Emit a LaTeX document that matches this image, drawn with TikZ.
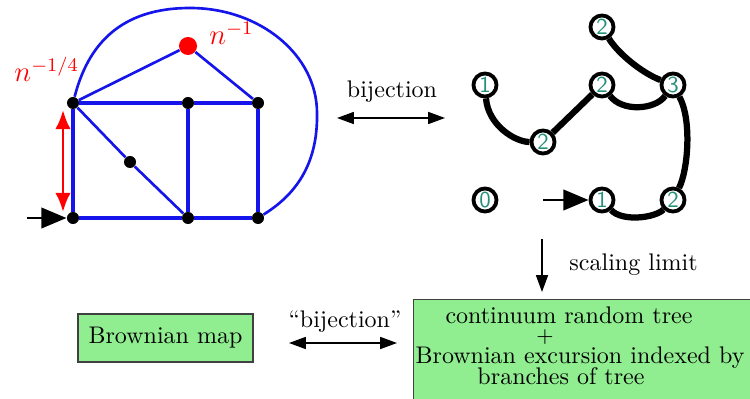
\documentclass[tikz,border=0pt]{standalone}
\usetikzlibrary{arrows.meta}

\definecolor{mapblue}{RGB}{20,20,235}
\definecolor{boxgreen}{RGB}{144,238,144}
\definecolor{labelteal}{RGB}{35,145,120}

\tikzset{
	vtx/.style={circle, fill=black, inner sep=0pt, minimum size=5pt},
	rootvtx/.style={circle, fill=red, inner sep=0pt, minimum size=7.5pt},
	mapedge/.style={mapblue, line width=1.7pt},
	mapthin/.style={mapblue, line width=1.1pt},
	tnode/.style={circle, draw, line width=1.6pt, fill=white, inner sep=0pt, minimum size=9.6pt,
		text=labelteal, font=\sffamily\fontsize{9.5}{10}\selectfont},
	tedge/.style={line width=2.6pt},
	rootarrow/.style={line width=1.2pt, -{Triangle[length=10.5pt, width=8.5pt]}},
	greenbox/.style={draw=black!75, line width=0.5pt, fill=boxgreen, inner sep=0pt},
	boxtext/.style={inner sep=0pt},
	thinarrow/.style={line width=0.6pt, {Triangle[length=7pt, width=5pt]}-{Triangle[length=7pt, width=5pt]}}
}

\begin{document}
\begin{tikzpicture}[x=0.4164pt, y=-0.4164pt]

		\useasboundingbox (0,0) rectangle (750,399);

		% planar map
		\node[vtx] (A) at (73,103) {};
		\node[vtx] (B) at (188,103) {};
		\node[vtx] (C) at (258,103) {};
		\node[vtx] (M) at (130,162) {};
		\node[vtx] (D) at (73,218) {};
		\node[vtx] (E) at (188,218) {};
		\node[vtx] (F) at (258,218) {};
		\node[rootvtx] (R) at (188,46) {};

		\draw[mapedge] (A) -- (B) -- (C) -- (F) -- (E) -- (D) -- (A);
		\draw[mapedge] (B) -- (E);
		\draw[mapthin] (A) -- (R) -- (C);
		\draw[mapthin] (A) -- (M) -- (E);
		\draw[mapthin] (A) .. controls (88,45) and (120,8) .. (190,8)
			.. controls (260,8) and (317,55) .. (317,113)
			.. controls (318,165) and (295,195) .. (F);

		\node[red, anchor=base west, font=\large] (rlbl) at (201,45) {$n^{-1}$};
		\node[red, anchor=base west, font=\large] (dlbl) at (6,82) {$n^{-1/4}$};

		\coordinate (dtop) at (63,110);
		\coordinate (dbot) at (63,212);
		\draw[red, line width=1.2pt, {Latex[length=8pt, width=6.5pt]}-{Latex[length=8pt, width=6.5pt]}] (dtop) -- (dbot);

		\coordinate (mstart) at (27,218);
		\draw[rootarrow] (mstart) -- (D);

		% bijection
		\coordinate (bijl) at (337,118);
		\coordinate (bijr) at (445,118);
		\draw[thinarrow] (bijl) -- (bijr);
		\node[anchor=base] (bijlbl) at (392,98) {bijection};

		% labelled tree
		\node[tnode] (t1) at (485,85) {1};
		\node[tnode] (t2a) at (543,142) {2};
		\node[tnode] (t2b) at (602,85) {2};
		\node[tnode] (t2c) at (602,27) {2};
		\node[tnode] (t3) at (673,85) {3};
		\node[tnode] (t0) at (485,200) {0};
		\node[tnode] (t1b) at (602,200) {1};
		\node[tnode] (t2d) at (673,200) {2};

		\draw[tedge] (t1) .. controls (488,125) and (515,142) .. (t2a);
		\draw[tedge] (t2a) -- (t2b);
		\draw[tedge] (t2b) .. controls (622,112) and (655,110) .. (t3);
		\draw[tedge] (t2c) .. controls (617,52) and (640,72) .. (t3);
		\draw[tedge] (t3) .. controls (692,120) and (688,170) .. (t2d);
		\draw[tedge] (t1b) .. controls (622,222) and (655,218) .. (t2d);

		\coordinate (tstart) at (543,200);
		\draw[rootarrow] (tstart) -- (t1b);

		% scaling limit
		\node[greenbox, anchor=north west, minimum width=140.3pt, minimum height=46pt] (crt) at (413,299) {};
		\coordinate (slt) at (542,239);
		\coordinate (slb) at (542,292);
		\draw[line width=0.6pt, -{Triangle[length=7pt, width=5pt]}] (slt) -- (slb);
		\node[anchor=base west] (sllbl) at (561,271) {scaling limit};

		\node[boxtext, anchor=base] (crt1) at (569,324) {continuum random tree};
		\node[boxtext, font=\small] (crt2) at (545,337) {$+$};
		\node[boxtext, anchor=base] (crt3) at (580,363) {Brownian excursion indexed by};
		\node[boxtext, anchor=base] (crt4) at (561,384) {branches of tree};

		% Brownian map
		\node[greenbox, minimum width=72.9pt, minimum height=20pt] (bmap) at (165.5,338) {Brownian map};

		\coordinate (qbijl) at (289,343);
		\coordinate (qbijr) at (397,343);
		\draw[thinarrow] (qbijl) -- (qbijr);
		\node[anchor=base] (qbijlbl) at (345,327) {``bijection''};

	\end{tikzpicture}
\end{document}
